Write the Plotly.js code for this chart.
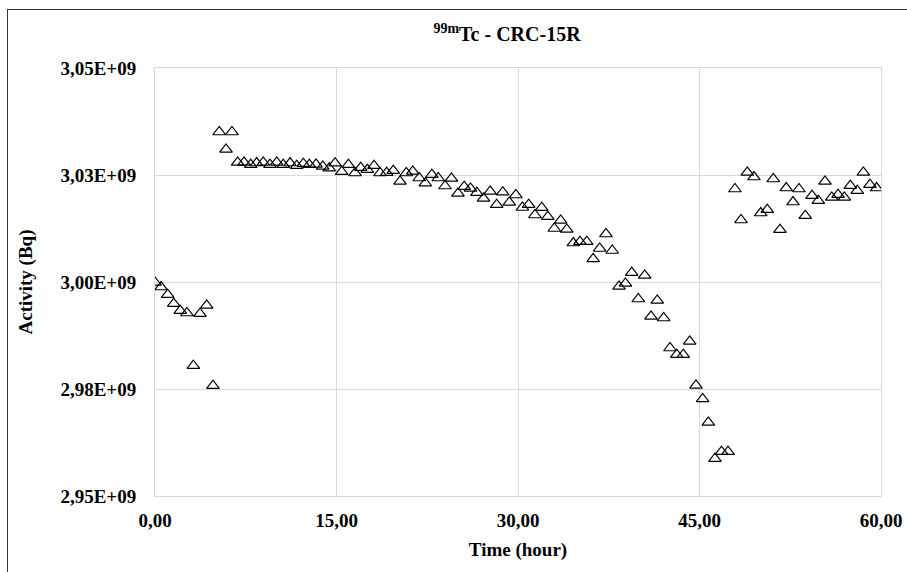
<!DOCTYPE html>
<html>
<head>
<meta charset="utf-8">
<script src="https://cdn.plot.ly/plotly-3.0.1.min.js"></script>
<style>
  html, body { margin: 0; padding: 0; background: #fff; overflow: hidden; }
  #frame { position: absolute; left: 7px; top: 9px; width: 1000px; height: 1000px; border: 1.5px solid #333; box-sizing: border-box; }
  #chart { position: absolute; left: 0; top: 0; width: 907px; height: 572px; }
</style>
</head>
<body>
<div id="frame"></div>
<div id="chart"></div>
<script>
// Time (hour)
const timeHours = [
  0.00, 0.50, 1.05, 1.55, 2.09, 2.64, 3.17, 3.72, 4.27, 4.79,
  5.31, 5.87, 6.36, 6.83, 7.36, 7.91, 8.40, 8.95, 9.50, 10.06,
  10.60, 11.16, 11.71, 12.26, 12.75, 13.31, 13.86, 14.40, 14.88, 15.43,
  15.98, 16.53, 17.00, 17.55, 18.10, 18.60, 19.15, 19.69, 20.25, 20.77,
  21.30, 21.84, 22.34, 22.88, 23.41, 23.97, 24.50, 25.04, 25.55, 26.07,
  26.60, 27.15, 27.70, 28.24, 28.74, 29.28, 29.82, 30.37, 30.88, 31.40,
  31.96, 32.46, 33.00, 33.53, 34.03, 34.57, 35.12, 35.68, 36.21, 36.75,
  37.27, 37.79, 38.35, 38.88, 39.40, 39.94, 40.47, 40.99, 41.51, 42.04,
  42.56, 43.12, 43.66, 44.19, 44.71, 45.26, 45.73, 46.28, 46.82, 47.36,
  47.93, 48.43, 48.95, 49.50, 50.06, 50.60, 51.10, 51.65, 52.17, 52.73,
  53.22, 53.74, 54.30, 54.82, 55.37, 55.93, 56.45, 56.97, 57.46, 58.04,
  58.54, 59.09, 59.64
];
// Activity (units of 1E9 Bq)
const activityE9 = [
  2.99991, 2.99883, 2.99703, 2.99493, 2.99330, 2.99276, 2.98045, 2.99259, 2.99453, 2.97577,
  3.03505, 3.03098, 3.03505, 3.02794, 3.02794, 3.02741, 3.02780, 3.02794, 3.02741, 3.02794,
  3.02741, 3.02780, 3.02717, 3.02764, 3.02741, 3.02748, 3.02701, 3.02659, 3.02776, 3.02577,
  3.02741, 3.02547, 3.02671, 3.02624, 3.02717, 3.02547, 3.02554, 3.02601, 3.02351, 3.02547,
  3.02584, 3.02430, 3.02308, 3.02507, 3.02430, 3.02243, 3.02421, 3.02070, 3.02227, 3.02187,
  3.02087, 3.01953, 3.02117, 3.01806, 3.02098, 3.01860, 3.02033, 3.01741, 3.01806, 3.01566,
  3.01736, 3.01526, 3.01250, 3.01439, 3.01229, 3.00911, 3.00942, 3.00942, 3.00540, 3.00783,
  3.01122, 3.00736, 2.99897, 2.99967, 3.00217, 2.99603, 3.00154, 2.99196, 2.99570, 2.99159,
  2.98458, 2.98302, 2.98302, 2.98612, 2.97584, 2.97267, 2.96720, 2.95872, 2.96035, 2.96035,
  3.02173, 3.01449, 3.02561, 3.02453, 3.01612, 3.01689, 3.02407, 3.01222, 3.02196, 3.01869,
  3.02173, 3.01549, 3.02016, 3.01900, 3.02351, 3.01977, 3.02040, 3.01977, 3.02250, 3.02133,
  3.02561, 3.02273, 3.02196
];
const xTickVals = [0, 15, 30, 45, 60];
const xTickText = ["0,00", "15,00", "30,00", "45,00", "60,00"];
const yTickVals = [2.95e9, 2.975e9, 3.0e9, 3.025e9, 3.05e9];
const yTickText = ["2,95E+09", "2,98E+09", "3,00E+09", "3,03E+09", "3,05E+09"];

const activityBq = activityE9.map(v => v * 1e9);
const serif = "Liberation Serif, Times New Roman, serif";

const trace = {
  x: timeHours,
  y: activityBq,
  type: "scatter",
  mode: "markers",
  marker: { symbol: "triangle-up-open", size: 11, color: "#000", line: { width: 1.2, color: "#000" } },
  hoverinfo: "x+y"
};

const layout = {
  width: 907,
  height: 572,
  paper_bgcolor: "rgba(0,0,0,0)",
  plot_bgcolor: "#fff",
  margin: { l: 155, r: 26, t: 68, b: 76 },
  showlegend: false,
  title: {
    text: "<b><sup>99m</sup>Tc - CRC-15R</b>",
    font: { family: serif, size: 20, color: "#000" },
    x: 0.559, xanchor: "center",
    y: 0.94, yanchor: "middle"
  },
  xaxis: {
    range: [0, 60],
    tickvals: xTickVals,
    ticktext: xTickText,
    tickfont: { family: serif, size: 19, color: "#000", weight: "bold" },
    showgrid: true, gridcolor: "#d9d9d9", gridwidth: 1,
    showline: true, linecolor: "#d9d9d9", linewidth: 1, mirror: true,
    zeroline: false, ticks: "outside", ticklen: 7, tickcolor: "rgba(0,0,0,0)",
    title: { text: "<b>Time (hour)</b>", font: { family: serif, size: 19, color: "#000" }, standoff: 12 }
  },
  yaxis: {
    range: [2.95e9, 3.05e9],
    tickvals: yTickVals,
    ticktext: yTickText,
    tickfont: { family: serif, size: 19, color: "#000", weight: "bold" },
    showgrid: true, gridcolor: "#d9d9d9", gridwidth: 1,
    showline: true, linecolor: "#d9d9d9", linewidth: 1, mirror: true,
    zeroline: false, ticks: "outside", ticklen: 14, tickcolor: "rgba(0,0,0,0)",
    title: { text: "<b>Activity (Bq)</b>", font: { family: serif, size: 19, color: "#000" }, standoff: 22 }
  }
};

Plotly.newPlot("chart", [trace], layout, { displayModeBar: false, staticPlot: true });
</script>
</body>
</html>
